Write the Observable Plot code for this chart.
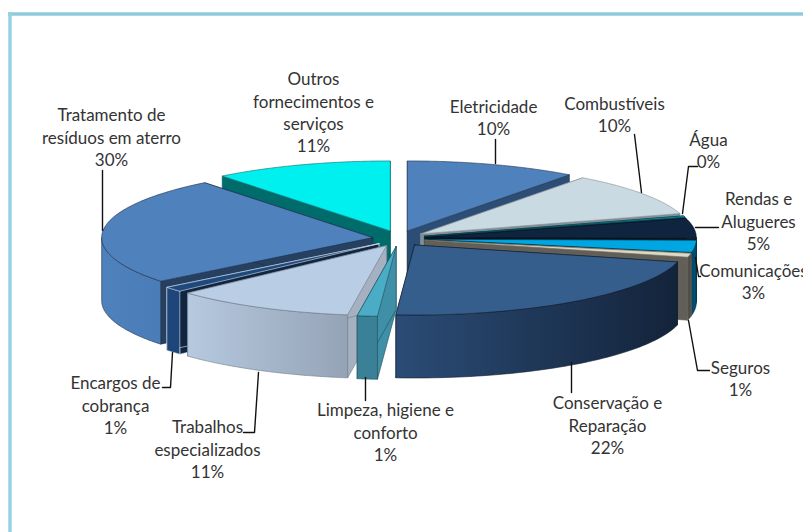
<!DOCTYPE html>
<html><head><meta charset="utf-8">
<style>html,body{margin:0;padding:0;background:#fff;overflow:hidden}</style>
<script src="https://cdn.jsdelivr.net/npm/d3@7"></script>
<script src="https://cdn.jsdelivr.net/npm/@observablehq/plot@0.6"></script>
</head><body>
<script>
// Data: categories, printed labels, and the arc shares
const categories = ["Eletricidade","Combustíveis","Água","Rendas e\nAlugueres","Comunicações","Seguros","Conservação e\nReparação","Limpeza, higiene e\nconforto","Trabalhos\nespecializados","Encargos de\ncobrança","Tratamento de\nresíduos em aterro","Outros\nfornecimentos e\nserviços"];
const printedPercent = [10,10,0,5,3,1,22,1,11,1,30,11];
const arcShare = [10.2,10.1,0.3,4.6,2.8,0.9,22.2,1.2,10.83,1.17,25.05,10.65];

// Styles per slice
const topColor = ["#4f81bd","#c9dae2","#1b9fb5","#0f243e","#00a6e2","#ddd9c3","#355e8d","#4bacc6","#b9cde5","#1f497d","#4f81bd","#00f0f0"];
const faceColor = ["#2c4d75","#7d8f97","#0a5d70","#07121f","#004e6e","#625f58","#223f60","#3f8fa6","#a5b1c1","#10253f","#254061","#006b6b"];
const wallLeft = ["#4f81bd","#c9dae2","#0a5d70","#0f243e","#004e6e","#4f4c47","#2b4c76","#3a8096","#b6c9df","#1f467b","#4f81bd","#00f0f0"];
const wallRight = ["#4f81bd","#c9dae2","#0a5d70","#0f243e","#004e6e","#4f4c47","#13233a","#3a8096","#95a3b6","#1f467b","#4a7cb8","#00f0f0"];
const edgeColor = ["#24384f","#8a8f94","#0a3a48","#0a1420","#03303f","#6b6860","#101c2c","#1f4d5c","#6f7a88","#dbe5f0","#1f2f48","#0f6a6a"];

// Layout of the exploded pie
const cx = 398.5, cy = 238, rx = 271, ry = 70, depth = 63, explodeX = 26.5, explodeY = 8;
const rad = d => d * Math.PI / 180;
const total = d3.sum(arcShare);
let acc = 0;
const slices = arcShare.map((v, i) => {
  const a0 = acc / total * 360; acc += v; const a1 = acc / total * 360; const mid = (a0 + a1) / 2;
  return {i, a0, a1, mid, ax: cx + explodeX * Math.sin(rad(mid)), ay: cy - explodeY * Math.cos(rad(mid))};
});
const onArc = (s, t) => ({x: s.ax + rx * Math.sin(rad(t)), y: s.ay - ry * Math.cos(rad(t))});
const arcPts = (s, a, b) => d3.range(0, 61).map(k => onArc(s, a + (b - a) * k / 60));
const down = p => ({x: p.x, y: p.y + depth});
const closed = pts => [...pts, pts[0]];

const sideFace = (s, t) => { const apex = {x: s.ax, y: s.ay}, p = onArc(s, t); return closed([apex, p, down(p), down(apex)]); };
const outerWall = s => {
  const a = Math.max(s.a0, 90), b = Math.min(s.a1, 270);
  if (b <= a) return null;
  const arc = arcPts(s, a, b);
  return closed([...arc, ...arc.slice().reverse().map(down)]);
};
const topFace = s => closed([{x: s.ax, y: s.ay}, ...arcPts(s, s.a0, s.a1)]);

const poly = (pts, fill, stroke, sw = 0.6) => Plot.line(pts, {x: "x", y: "y", fill, stroke, strokeWidth: sw, strokeLinejoin: "round"});
const defs = () => {
  const d = d3.create("svg:defs");
  slices.forEach(s => {
    const g = d.append("svg:linearGradient").attr("id", `wall${s.i}`);
    g.append("svg:stop").attr("offset", "0").attr("stop-color", wallLeft[s.i]);
    g.append("svg:stop").attr("offset", "1").attr("stop-color", wallRight[s.i]);
  });
  return d.node();
};

// Paint from back to front
const order = slices.slice().sort((p, q) => Math.cos(rad(q.mid)) - Math.cos(rad(p.mid)));
const pieMarks = order.flatMap(s => {
  const m = [poly(sideFace(s, s.a0), faceColor[s.i], edgeColor[s.i]), poly(sideFace(s, s.a1), faceColor[s.i], edgeColor[s.i])];
  const w = outerWall(s);
  if (w) m.push(poly(w, `url(#wall${s.i})`, edgeColor[s.i]));
  m.push(poly(topFace(s), topColor[s.i], edgeColor[s.i]));
  return m;
});

// Hand-placed label anchors and leader lines of the original
const labelX = [493,614,708,758,753,740,607,385,207,115,111,313];
const labelY = [116,113,149,220,280,377,424,431,448,404,136,111];
const labels = categories.map((c, i) => ({x: labelX[i], y: labelY[i], text: `${c}\n${printedPercent[i]}%`}));
const leaders = [
  [[495,139],[495,163]],
  [[634,134],[641,192]],
  [[682,213],[688,166],[697,166]],
  [[695,227],[718,227]],
  [[695,257],[698,276],[700,276]],
  [[688,320],[697,370],[709,370]],
  [[571,362],[571,392]],
  [[365,377],[365,400]],
  [[258,372],[254,432],[243,432]],
  [[172,352],[170,387],[162,387]],
  [[102,170],[102,230]]
];
const leaderRows = leaders.flatMap((l, k) => l.map(([x, y]) => ({x, y, k})));
const labelSize = 17;

const chart = Plot.plot({
  width: 803, height: 532, margin: 0,
  x: {domain: [0, 803], range: [0, 803], axis: null},
  y: {domain: [0, 532], range: [0, 532], axis: null},
  style: {background: "#fff"},
  marks: [
    defs,
    Plot.ruleY([13.5], {x1: 8, x2: 803, stroke: "#8fcbdc", strokeWidth: 3.5}),
    Plot.ruleX([9.5], {y1: 12, y2: 532, stroke: "#96d2e2", strokeWidth: 3.5}),
    ...pieMarks,
    Plot.line(leaderRows, {x: "x", y: "y", z: "k", stroke: "#111", strokeWidth: 1.4}),
    Plot.text(labels, {x: "x", y: "y", text: "text", fontSize: labelSize, lineHeight: 22.3 / labelSize, fontFamily: "Lato", fill: "#333"})
  ]
});
document.body.appendChild(chart);
</script>
</body></html>
